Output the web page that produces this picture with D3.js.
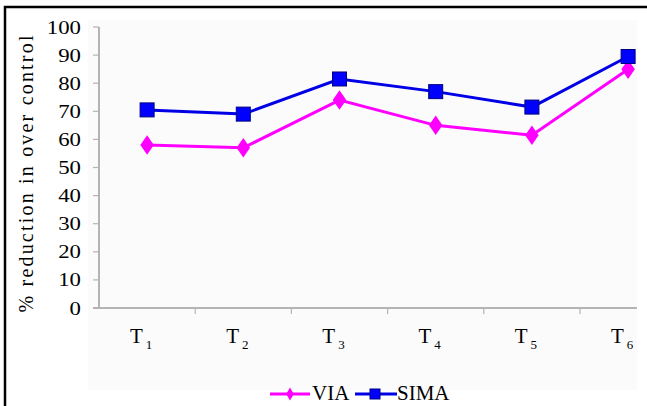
<!DOCTYPE html>
<html>
<head>
<meta charset="utf-8">
<script src="https://cdn.jsdelivr.net/npm/d3@7"></script>
<style>
  body { margin: 0; background: #fff; }
</style>
</head>
<body>
<svg id="chart" width="647" height="406"></svg>
<script>
var categories = ['1', '2', '3', '4', '5', '6'];
var via = [58, 57, 74, 65, 61.5, 85];
var sima = [70.5, 69, 81.5, 77, 71.5, 89.5];
var yTicks = [0, 10, 20, 30, 40, 50, 60, 70, 80, 90, 100];

(function () {
  'use strict';

  var svg = d3.select('#chart'),
    font = "'Liberation Serif'",
    left = 99,
    plotTop = 27,
    bottom = 308,
    step = 96.2,
    axisEnd = 637;

  var x = d3.scaleBand().domain(categories).range([left, left + step * categories.length]).padding(0);
  var y = d3.scaleLinear().domain([0, 100]).range([bottom, plotTop]);
  var cx = function (d, i) { return x(categories[i]) + x.bandwidth() / 2; };

  // frame and plot background
  svg.append('rect').attr('x', 5).attr('y', 7).attr('width', 650).attr('height', 410)
    .attr('fill', 'none').attr('stroke', '#000').attr('stroke-width', 2.5);
  svg.append('rect').attr('x', 88).attr('y', 20).attr('width', axisEnd - 88).attr('height', 370)
    .attr('fill', '#fcfbfc');

  // y axis
  var yAxis = svg.append('g');
  yAxis.append('line').attr('x1', left).attr('x2', left).attr('y1', y(100)).attr('y2', y(0))
    .attr('stroke', '#b4b4b4').attr('stroke-width', 2);
  yAxis.selectAll('line.tick').data(yTicks).enter().append('line')
    .attr('x1', left - 6).attr('x2', left).attr('y1', y).attr('y2', y)
    .attr('stroke', '#b4b4b4').attr('stroke-width', 1.2);
  yAxis.selectAll('text').data(yTicks).enter().append('text')
    .attr('transform', function (d) { return 'translate(81,' + (y(d) + 6.5) + ') scale(1.2,1)'; })
    .style('font-family', font)
    .attr('text-anchor', 'end').attr('font-size', 19).text(function (d) { return d; });

  // x axis
  var xAxis = svg.append('g');
  xAxis.append('line').attr('x1', left - 6).attr('x2', axisEnd).attr('y1', bottom).attr('y2', bottom)
    .attr('stroke', '#b4b4b4').attr('stroke-width', 2);
  xAxis.selectAll('line.tick').data(categories.slice(1)).enter().append('line')
    .attr('x1', function (d) { return x(d); }).attr('x2', function (d) { return x(d); })
    .attr('y1', bottom).attr('y2', bottom + 6)
    .attr('stroke', '#b4b4b4').attr('stroke-width', 1.2);
  var lab = xAxis.selectAll('text').data(categories).enter().append('text')
    .attr('x', function (d, i) { return cx(d, i) - 6; }).attr('y', 343)
    .style('font-family', font)
    .attr('text-anchor', 'middle').attr('font-size', 21);
  lab.append('tspan').text('T');
  lab.append('tspan').attr('font-size', 13).attr('dx', 3).attr('dy', 6).text(function (d) { return d; });

  // y title
  svg.append('text').attr('transform', 'translate(33,174) rotate(-90)')
    .style('font-family', font)
    .attr('text-anchor', 'middle').attr('font-size', 20)
    .attr('textLength', 277).attr('lengthAdjust', 'spacing')
    .text('% reduction in over control');

  // series
  var line = d3.line().x(cx).y(function (d) { return y(d); });
  var diamond = d3.symbol().type(d3.symbolDiamond).size(110);

  svg.append('path').datum(via).attr('d', line)
    .attr('fill', 'none').attr('stroke', '#ff00ff').attr('stroke-width', 3);
  svg.selectAll('path.via').data(via).enter().append('path').attr('class', 'via')
    .attr('d', diamond)
    .attr('transform', function (d, i) { return 'translate(' + cx(d, i) + ',' + y(d) + ') scale(1.2,1)'; })
    .attr('fill', '#ff00ff');

  svg.append('path').datum(sima).attr('d', line)
    .attr('fill', 'none').attr('stroke', '#0000e6').attr('stroke-width', 3);
  svg.selectAll('rect.sima').data(sima).enter().append('rect').attr('class', 'sima')
    .attr('x', function (d, i) { return cx(d, i) - 7; }).attr('y', function (d) { return y(d) - 7; })
    .attr('width', 14).attr('height', 14)
    .attr('fill', '#0000ff').attr('stroke', '#000080').attr('stroke-width', 1);

  // legend
  var lg = svg.append('g');
  lg.append('line').attr('x1', 270).attr('x2', 310).attr('y1', 394).attr('y2', 394)
    .attr('stroke', '#ff00ff').attr('stroke-width', 3);
  lg.append('path').attr('d', d3.symbol().type(d3.symbolDiamond).size(50))
    .attr('transform', 'translate(290,394)').attr('fill', '#ff00ff');
  lg.append('text').attr('x', 312).attr('y', 400).style('font-family', font)
    .attr('font-size', 21).text('VIA');
  lg.append('line').attr('x1', 355).attr('x2', 397).attr('y1', 394).attr('y2', 394)
    .attr('stroke', '#0000e6').attr('stroke-width', 3);
  lg.append('rect').attr('x', 370).attr('y', 389).attr('width', 10).attr('height', 10)
    .attr('fill', '#0000ff').attr('stroke', '#000080');
  lg.append('text').attr('x', 397).attr('y', 400).style('font-family', font)
    .attr('font-size', 21).text('SIMA');
})();
</script>
</body>
</html>
